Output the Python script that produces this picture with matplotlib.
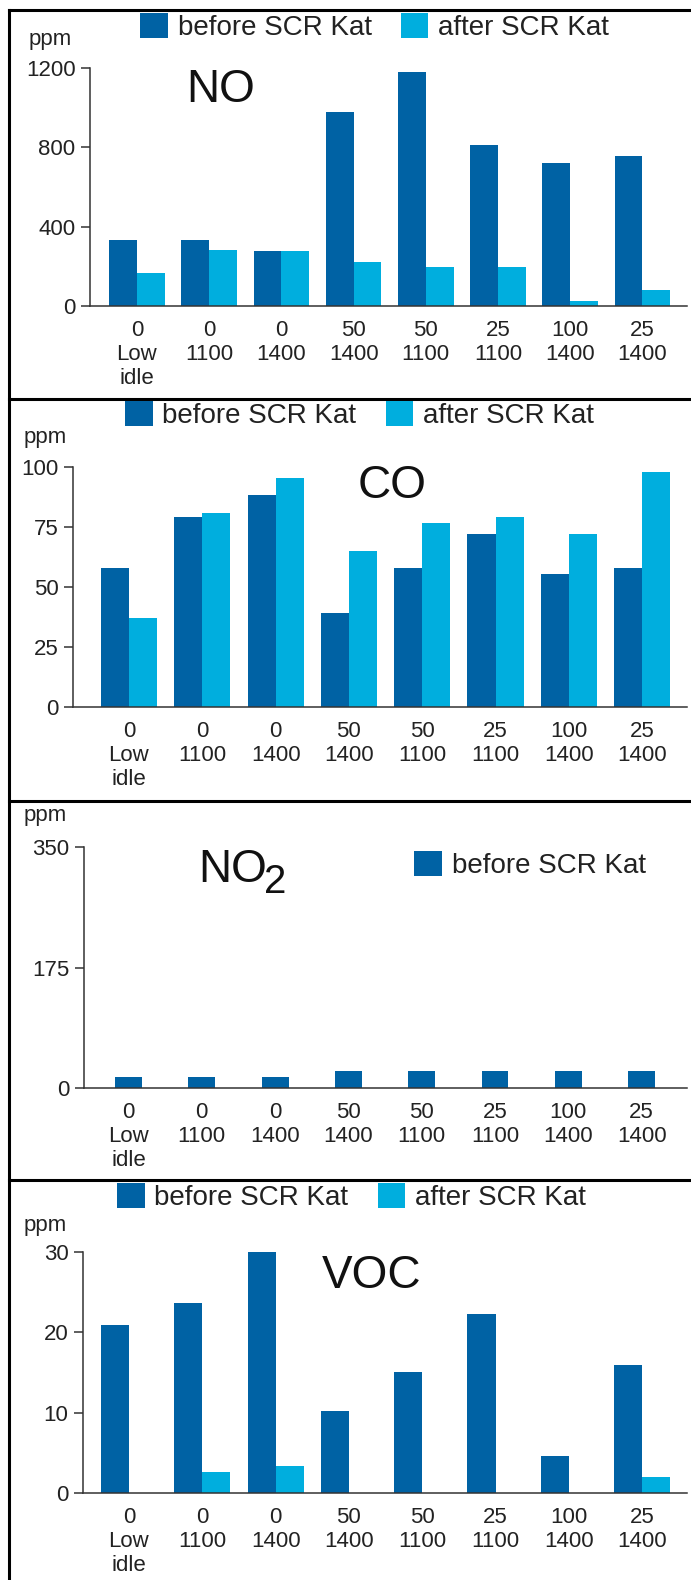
import matplotlib.pyplot as plt
import numpy as np
from matplotlib.lines import Line2D

plt.rcParams['font.family'] = ['Liberation Sans', 'DejaVu Sans']

W, H = 691, 1580

# operating points: load (%) / engine speed (rpm)
labels = ['0\nLow\nidle', '0\n1100', '0\n1400', '50\n1400',
          '50\n1100', '25\n1100', '100\n1400', '25\n1400']

no_before = [335, 335, 278, 978, 1178, 810, 722, 755]
no_after = [165, 280, 278, 222, 198, 198, 25, 82]

co_before = [58, 79, 88.5, 39, 58, 72, 55.5, 58]
co_after = [37, 81, 95.5, 65, 76.5, 79, 72, 98]

no2_before = [16, 16, 16, 24, 24, 24, 24, 24]

voc_before = [20.9, 23.7, 30, 10.2, 15.1, 22.3, 4.6, 15.9]
voc_after = [0, 2.6, 3.4, 0, 0, 0, 0, 2.0]

dark = '#0062a4'
light = '#00aede'
txt = '#222222'
axcol = '#333333'

fig = plt.figure(figsize=(W / 100, H / 100), dpi=100)


def px(x, y):
    # pixel position (from top left) -> figure fraction
    return x / W, 1 - y / H


def make_axes(left, top, bottom, c0, step, ymax, yticks):
    right = 687
    ax = fig.add_axes([left / W, 1 - bottom / H, (right - left) / W, (bottom - top) / H])
    ax.set_xlim((left - c0) / step, (right - c0) / step)
    ax.set_ylim(0, ymax)
    ax.set_yticks(yticks)
    ax.set_xticks(np.arange(len(labels)))
    ax.set_xticklabels(labels, color=txt)
    for s in ['top', 'right']:
        ax.spines[s].set_visible(False)
    for s in ['left', 'bottom']:
        ax.spines[s].set_color(axcol)
        ax.spines[s].set_linewidth(1.1)
    ax.tick_params(axis='y', direction='out', length=6.5, width=1.1, color=axcol,
                   labelsize=16, labelcolor=txt, pad=4)
    ax.tick_params(axis='x', length=0, labelsize=16, labelcolor=txt, pad=10)
    ax.patch.set_alpha(0)
    return ax


def add_legend(handles, names, x, yc):
    fig.legend(handles, names, loc='center left', bbox_to_anchor=px(x, yc),
               bbox_transform=fig.transFigure, ncol=len(handles), frameon=False,
               fontsize=20, handlelength=1.0, handleheight=1.0, handletextpad=0.35,
               columnspacing=1.05, borderpad=0, borderaxespad=0, labelcolor=txt)


x = np.arange(len(labels))

# NO
ax1 = make_axes(90, 68, 306, 137, 72.2, 1200, [0, 400, 800, 1200])
w = 0.386
b1 = ax1.bar(x - w / 2, no_before, w, color=dark)
b2 = ax1.bar(x + w / 2, no_after, w, color=light)
add_legend([b1, b2], ['before SCR Kat', 'after SCR Kat'], 140, 27)
fig.text(*px(29, 45), 'ppm', fontsize=16, color=txt, va='baseline')
fig.text(*px(186, 102), 'NO', fontsize=33, color='#111111', va='baseline')

# CO
ax2 = make_axes(73, 467, 707, 129, 73.3, 100, [0, 25, 50, 75, 100])
w = 0.382
b1 = ax2.bar(x - w / 2, co_before, w, color=dark)
b2 = ax2.bar(x + w / 2, co_after, w, color=light)
add_legend([b1, b2], ['before SCR Kat', 'after SCR Kat'], 125, 415)
fig.text(*px(24, 443), 'ppm', fontsize=16, color=txt, va='baseline')
fig.text(*px(358, 498), 'CO', fontsize=33, color='#111111', va='baseline')

# NO2
ax3 = make_axes(84, 847, 1088, 128.5, 73.3, 350, [0, 175, 350])
w = 0.368
b1 = ax3.bar(x, no2_before, w, color=dark)
add_legend([b1], ['before SCR Kat'], 414, 865)
fig.text(*px(24, 821), 'ppm', fontsize=16, color=txt, va='baseline')
fig.text(*px(198, 882), 'NO', fontsize=33, color='#111111', va='baseline')
fig.text(*px(264, 893), '2', fontsize=29, color='#111111', va='baseline')

# VOC
ax4 = make_axes(83, 1252, 1493, 129, 73.3, 30, [0, 10, 20, 30])
w = 0.382
b1 = ax4.bar(x - w / 2, voc_before, w, color=dark)
b2 = ax4.bar(x + w / 2, voc_after, w, color=light)
add_legend([b1, b2], ['before SCR Kat', 'after SCR Kat'], 117, 1197)
fig.text(*px(24, 1231), 'ppm', fontsize=16, color=txt, va='baseline')
fig.text(*px(322, 1288), 'VOC', fontsize=33, color='#111111', va='baseline')

# frame lines around / between the panels
for y in [10, 399, 801, 1180]:
    fig.add_artist(Line2D([9 / W, 1], [1 - y / H] * 2, color='black', lw=2.2))
fig.add_artist(Line2D([9 / W] * 2, [1 - 10 / H, 0], color='black', lw=2.2))

fig.savefig('out.png', dpi=100)
